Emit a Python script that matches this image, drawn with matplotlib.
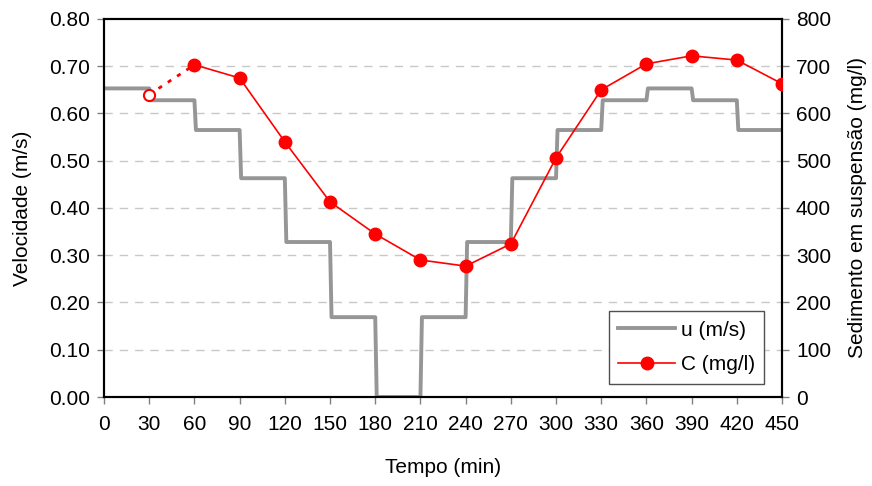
import matplotlib
matplotlib.use('Agg')
import matplotlib.pyplot as plt
import numpy as np

plt.rcParams['font.family'] = ['Liberation Sans', 'DejaVu Sans']
plt.rcParams['font.size'] = 15

# velocity steps: boundaries (min) and level in each interval (m/s)
step_edges = [0, 30, 60, 90, 120, 150, 180, 210, 240, 270, 300, 330, 360, 390, 420, 450]
u_levels = [0.653, 0.628, 0.565, 0.463, 0.328, 0.169, 0.0, 0.169, 0.328,
            0.463, 0.565, 0.628, 0.653, 0.628, 0.565]

# suspended sediment concentration (mg/l)
c_time = [60, 90, 120, 150, 180, 210, 240, 270, 300, 330, 360, 390, 420, 450]
c_vals = [703, 675, 540, 413, 345, 290, 277, 324, 506, 650, 705, 722, 713, 663]
c_first_time = 30
c_first_val = 640

xticks = list(range(0, 451, 30))

# build step line (small slant at each transition like the original)
ux, uy = [], []
for i, v in enumerate(u_levels):
    start = step_edges[i] + (1 if i > 0 else 0)
    ux += [start, step_edges[i + 1]]
    uy += [v, v]

fig = plt.figure(figsize=(8.72, 4.86), dpi=100)
ax = fig.add_axes([0.1193, 0.1831, 0.7775, 0.7779])
ax2 = ax.twinx()

ax.set_zorder(ax2.get_zorder() - 1)
ax.patch.set_visible(True)
ax2.patch.set_visible(False)

for yv in np.arange(0.1, 0.75, 0.1):
    ax.axhline(yv, color='#c8c8c8', lw=1, ls=(0, (6, 5)), zorder=0)

lu, = ax.plot(ux, uy, color='#969696', lw=2.8, label='u (m/s)', zorder=2)

ax2.plot([c_first_time, c_time[0]], [c_first_val, c_vals[0]], color='red',
         lw=2, ls=(0, (1.5, 2.5)), zorder=3)
ax2.plot([c_first_time], [c_first_val], 'o', color='red', mfc='white',
         mew=1.5, ms=8, zorder=4)
lc, = ax2.plot(c_time, c_vals, '-o', color='red', lw=1.2, ms=9,
               label='C (mg/l)', zorder=4)

ax.set_xlim(0, 450)
ax.set_ylim(0, 0.8)
ax2.set_ylim(0, 800)
ax.set_xticks(xticks)
ax.set_yticks(np.arange(0, 0.81, 0.1))
ax.set_yticklabels([f'{v:.2f}' for v in np.arange(0, 0.81, 0.1)])
ax2.set_yticks(range(0, 801, 100))

for a in (ax, ax2):
    for s in a.spines.values():
        s.set_linewidth(1.5)
        s.set_color('black')
ax.tick_params(axis='both', direction='out', length=5, width=1, color='#808080', pad=5)
ax2.tick_params(axis='y', direction='out', length=5, width=1, color='#808080', pad=5)
ax.tick_params(axis='x', pad=8)

ax.set_xlabel('Tempo (min)', labelpad=17)
ax.set_ylabel('Velocidade (m/s)', labelpad=12.5)
ax2.set_ylabel('Sedimento em suspensão (mg/l)', labelpad=12.5)

leg = ax2.legend([lu, lc], ['u (m/s)', 'C (mg/l)'], loc='lower right',
                 bbox_to_anchor=(0.974, 0.035), fancybox=False, framealpha=1,
                 edgecolor='#505050', handlelength=2.7, handletextpad=0.3,
                 borderpad=0.45, labelspacing=0.75, borderaxespad=0, fontsize=15)
leg.get_frame().set_linewidth(1)

fig.savefig('out.png', dpi=100)
